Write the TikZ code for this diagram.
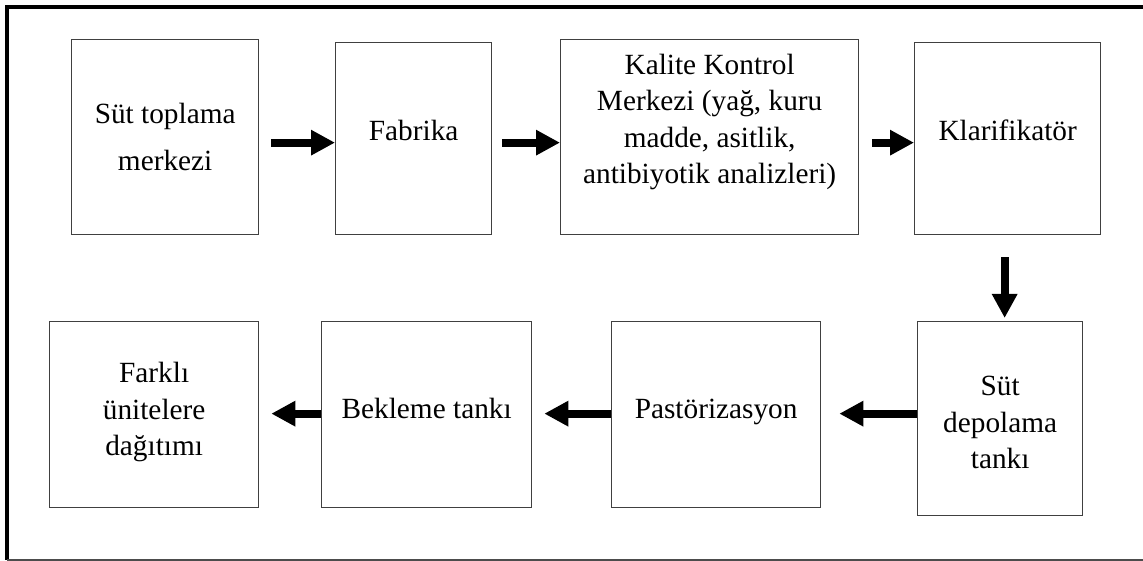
\documentclass[tikz,border=0pt]{standalone}
\usepackage{fontspec}
\setmainfont{Liberation Serif}
\usetikzlibrary{arrows.meta,positioning}

\begin{document}
\begin{tikzpicture}[x=1pt, y=-1pt,
  stepbox/.style={draw=black!75, line width=1.3pt, rectangle, inner sep=0pt, anchor=north west, align=center, font=\fontsize{29.3}{36.5}\selectfont},
  flow/.style={-{Triangle[length=24pt,width=24pt]}, line width=8pt}]
\useasboundingbox (0,0) rectangle (1143,561);
% frame
\draw[line width=4pt] (1143,7) -- (7,7) -- (7,560);
\draw[line width=1.5pt, black!70] (7,560) -- (1143,560);
%============
\node[stepbox, minimum width=187pt, text height=131pt, text depth=64pt] (b1) at (71,39) {Süt toplama\\[11pt]merkezi};
\node[stepbox, minimum width=156pt, text height=98pt, text depth=94pt] (b2) at (335,42) {Fabrika};
\node[stepbox, minimum width=298pt, text height=144pt, text depth=51pt] (b3) at (560,39) {Kalite Kontrol\\Merkezi (yağ, kuru\\madde, asitlik,\\antibiyotik analizleri)};
\node[stepbox, minimum width=186pt, text height=98pt, text depth=94pt] (b4) at (914,42) {Klarifikatör};
%============
\node[stepbox, minimum width=165pt, text height=147pt, text depth=47pt] (b5) at (917,321) {Süt\\depolama\\tankı};
\node[stepbox, minimum width=209pt, text height=97pt, text depth=89pt] (b6) at (611,321) {Pastörizasyon};
\node[stepbox, minimum width=210pt, text height=97pt, text depth=89pt] (b7) at (321,321) {Bekleme tankı};
\node[stepbox, minimum width=209pt, text height=134pt, text depth=52pt] (b8) at (49,321) {Farklı\\ünitelere\\dağıtımı};
%==========

\draw[flow, shorten <=12pt] ([yshift=-5.5pt]b1.east) -- ([yshift=-5.5pt]b1.east -| b2.west);
\draw[flow, shorten <=10pt] ([yshift=-4pt]b2.east) -- ([yshift=-4pt]b2.east -| b3.west);
\draw[flow, shorten <=13pt] ([yshift=-5.5pt]b3.east) -- ([yshift=-5.5pt]b3.east -| b4.west);
\draw[flow, shorten <=22pt, shorten >=3pt] ([xshift=-3pt]b4.south) -- ([xshift=-3pt]b4.south |- b5.north);

\draw[flow, shorten >=18pt] ([yshift=5pt]b5.west) -- ([yshift=5pt]b5.west -| b6.east);
\draw[flow, shorten >=12pt] ([yshift=1pt]b6.west) -- ([yshift=1pt]b6.west -| b7.east);
\draw[flow, shorten >=12pt] ([yshift=1pt]b7.west) -- ([yshift=1pt]b7.west -| b8.east);

\end{tikzpicture}
\end{document}
